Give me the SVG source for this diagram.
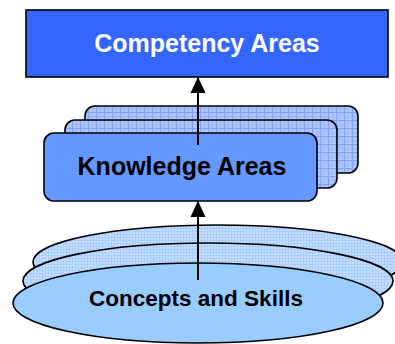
<svg xmlns="http://www.w3.org/2000/svg" width="395" height="344" viewBox="0 0 395 344">
<defs>
<pattern id="gridR" width="8" height="8" patternUnits="userSpaceOnUse">
<rect width="8" height="8" fill="#AEC6FF"/>
<path d="M0 4.5H8M4.5 0V8" stroke="#A0BCFF" stroke-width="1"/>
<path d="M0 0.5H8M0.5 0V8" stroke="#7FA2F5" stroke-width="1"/>
</pattern>
<pattern id="gridE" width="3" height="3" patternUnits="userSpaceOnUse">
<rect width="3" height="3" fill="#C4DEFF"/>
<path d="M0 0.5H3M0.5 0V3" stroke="#A6CBFA" stroke-width="0.8"/>
</pattern>
<marker id="ah" markerWidth="16" markerHeight="17" viewBox="0 0 17 16" refX="17" refY="8" orient="auto" markerUnits="userSpaceOnUse">
<path d="M0 0L17 8L0 16Z" fill="#000"/>
</marker>
</defs>
<style>
.lbl{font-family:"Liberation Sans",Arial,sans-serif;font-weight:bold;text-anchor:middle}
.ol{stroke:#000;stroke-width:1.6}
</style>
<rect width="395" height="344" fill="#fff"/>
<g id="competency-areas">
<rect x="26" y="10" width="362" height="67" fill="#3366FF" class="ol"/>
<text x="207" y="52" class="lbl" font-size="25" fill="#fff">Competency Areas</text>
</g>
<g id="concepts-and-skills">
<ellipse cx="218" cy="262" rx="185" ry="37" fill="url(#gridE)" class="ol"/>
<ellipse cx="208" cy="281" rx="185" ry="38" fill="url(#gridE)" class="ol"/>
<ellipse cx="198" cy="303" rx="185" ry="40" fill="#99CCFF" class="ol"/>
<text x="196" y="306" class="lbl" font-size="22.5">Concepts and Skills</text>
</g>
<g id="knowledge-areas">
<rect x="85" y="106" width="273" height="67" rx="10" fill="url(#gridR)" class="ol"/>
<rect x="65" y="120" width="272" height="68" rx="10" fill="url(#gridR)" class="ol"/>
<rect x="44" y="133" width="273" height="68" rx="10" fill="#6699FF" class="ol"/>
<text x="182" y="175" class="lbl" font-size="25">Knowledge Areas</text>
</g>
<g id="connectors" stroke="#000" stroke-width="2" fill="none">
<line x1="198" y1="145" x2="198" y2="77" marker-end="url(#ah)"/>
<line x1="198" y1="280" x2="198" y2="201" marker-end="url(#ah)"/>
</g>
</svg>
